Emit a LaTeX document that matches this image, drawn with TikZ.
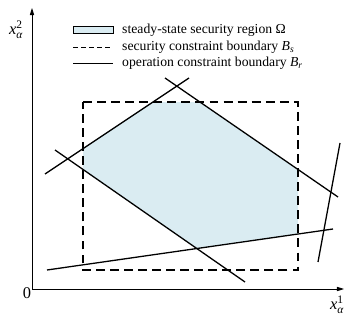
\documentclass[tikz,border=0pt]{standalone}
\usepackage{amsmath}
\usepackage{fontspec}
\setmainfont{Liberation Serif}
\usetikzlibrary{arrows.meta}
\definecolor{regionblue}{RGB}{218,236,242}

\begin{document}
\begin{tikzpicture}[x=0.03cm, y=-0.03cm, font=\fontsize{11.7}{13}\selectfont,
  axis/.style={line width=0.7pt, -{Triangle[length=6pt, width=3.6pt]}},
  axlabel/.style={font=\fontsize{14}{16}\selectfont, inner sep=0pt},
  oper/.style={line width=1.1pt},
  secur/.style={line width=1.1pt, dash pattern=on 7.6pt off 4.4pt},
  legtext/.style={anchor=west, inner sep=0pt}]
  \useasboundingbox (0,0) rectangle (348,321);
  %% ── Axes ───────────────────────────────────────────────────
  \coordinate (O)    at (32,289);
  \coordinate (xend) at (344,289);
  \coordinate (yend) at (32,8);
  \draw[axis] (O) -- (xend);
  \draw[axis] (O) -- (yend);
  \node[axlabel] (zero) at (27,293) {0};
  \node[axlabel] (xlab) at (337,305) {$\textit{x}^{\textrm{1}}_{\textit{α}}$};
  \node[axlabel] (ylab) at (16,30)   {$\textit{x}^{\textrm{2}}_{\textit{α}}$};
  %% ── Security constraint boundary (dashed box) ───────────────
  \coordinate (nw) at (83,102);  \coordinate (ne) at (298,102);
  \coordinate (sw) at (83,270);  \coordinate (se) at (298,270);
  %% ── Operation constraint boundaries (end points) ────────────
  \coordinate (a1) at (45,174);  \coordinate (a2) at (189,78);
  \coordinate (b1) at (165,78);  \coordinate (b2) at (338,197);
  \coordinate (c1) at (55,150);  \coordinate (c2) at (245,282);
  \coordinate (d1) at (47,270);  \coordinate (d2) at (333,229);
  \coordinate (e1) at (340,143); \coordinate (e2) at (318,262);
  %% ── Steady-state security region ────────────────────────────
  \fill[regionblue]
    (intersection of a1--a2 and nw--sw) --
    (intersection of a1--a2 and nw--ne) --
    (intersection of b1--b2 and nw--ne) --
    (intersection of b1--b2 and ne--se) --
    (intersection of d1--d2 and ne--se) --
    (intersection of c1--c2 and d1--d2) --
    (intersection of c1--c2 and nw--sw) -- cycle;
  \draw[secur] (nw) -- (ne) -- (se) -- (sw) -- cycle;
  \foreach \p in {a,b,c,d,e}{
    \draw[oper] (\p1) -- (\p2);
  }
  %% ── Legend ─────────────────────────────────────────────────
  \draw[fill=regionblue, line width=0.6pt] (73,26) rectangle (113,33);
  \node[legtext] (leg1) at (122,30) {steady-state security region Ω};
  \draw[line width=0.8pt, dash pattern=on 4.3pt off 2.6pt] (73,47) -- (113,47);
  \node[legtext] (leg2) at (122,47) {security constraint boundary \textit{B}\textsubscript{\textit{s}}};
  \draw[line width=0.8pt] (73,63) -- (113,63);
  \node[legtext] (leg3) at (122,63) {operation constraint boundary \textit{B}\textsubscript{\textit{r}}};
\end{tikzpicture}
\end{document}
